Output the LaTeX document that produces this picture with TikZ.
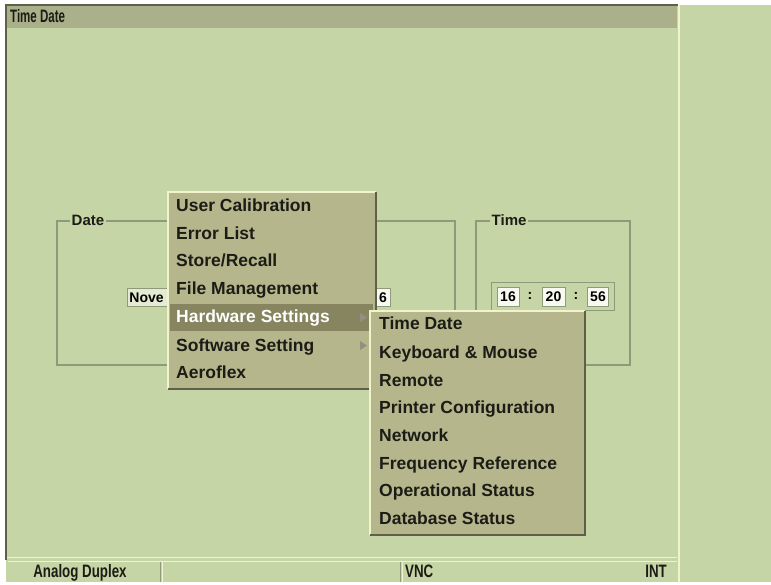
\documentclass[tikz,border=0pt]{standalone}
\usepackage{fontspec}
\setmainfont{Liberation Sans}
\newfontfamily\narrowfont[FakeStretch=0.74]{Liberation Sans}
\newfontfamily\titlefont[FakeStretch=0.64]{Liberation Sans}
\usetikzlibrary{positioning, calc}
\definecolor{panelGreen}{HTML}{C6D5A5}
\definecolor{titleOlive}{HTML}{AAB08A}
\definecolor{menuOlive}{HTML}{B5B68C}
\definecolor{menuHigh}{HTML}{86855F}
\definecolor{edgeLight}{HTML}{F1F3CC}
\definecolor{edgeDark}{HTML}{5F5F4A}
\definecolor{groupLine}{HTML}{8E9B7A}
\definecolor{fieldWhite}{HTML}{F8F9F0}
\definecolor{textDark}{HTML}{1C1C16}
\tikzset{
  menuitem/.style={anchor=base west, inner sep=0pt, text=textDark,
                   font=\bfseries\fontsize{17.5}{19}\selectfont},
  menuhigh/.style={menuitem, text=white},
  menuarrow/.style={fill=gray!70!menuOlive},
  grouplabel/.style={anchor=base west, fill=panelGreen, inner sep=1.5pt, text=textDark,
                     font=\bfseries\fontsize{15}{17}\selectfont},
  groupbox/.style={draw=groupLine, line width=1.2pt},
  fieldbox/.style={fill=fieldWhite, draw=groupLine, line width=0.8pt, inner sep=0pt,
                   minimum height=19pt, font=\bfseries\fontsize{14}{16}\selectfont},
  colon/.style={inner sep=0pt, font=\bfseries\fontsize{14}{16}\selectfont},
  statustext/.style={anchor=base, inner sep=0pt, text=textDark,
                     font=\narrowfont\bfseries\fontsize{18}{20}\selectfont},
}
\begin{document}
\begin{tikzpicture}[x=1pt, y=-1pt]
  \useasboundingbox[fill=white] (0,0) rectangle (771,585);

  % window, title bar and side panel
  \fill[panelGreen] (6,5) rectangle (678,560);
  \fill[panelGreen] (678,5) rectangle (771,582);
  \fill[titleOlive] (7,6) rectangle (677,28);
  \draw[edgeDark, line width=1.5pt] (6,560) -- (6,5) -- (678,5);
  \draw[edgeLight, line width=2pt] (679,5) -- (679,582);
  \draw[edgeLight, line width=1pt] (7,557.5) -- (677,557.5);
  \node[anchor=base west, inner sep=0pt, text=textDark,
        font=\titlefont\bfseries\fontsize{18}{20}\selectfont] (title) at (10,23) {Time Date};

  % status bar
  \fill[panelGreen] (6,560) rectangle (678,582);
  \draw[edgeLight, line width=1pt] (8,561) -- (677,561);
  \draw[groupLine, line width=1pt] (160,562) -- (160,582);
  \draw[edgeLight, line width=1pt] (162,562) -- (162,582);
  \draw[groupLine, line width=1pt] (400,562) -- (400,582);
  \draw[edgeLight, line width=1pt] (402,562) -- (402,582);
  \node[statustext] (mode) at (80,577) {Analog Duplex};
  \node[statustext, anchor=base west] (vnc) at (405,577) {VNC};
  \node[statustext, anchor=base east] (intref) at (667,577) {INT};

  % date group
  \draw[groupbox] (57,221) rectangle (455,365);
  \node[grouplabel] (datelbl) at (70,226) {Date};
  \node[fieldbox, fill=fieldWhite!60!panelGreen, minimum width=45pt, minimum height=18pt,
        anchor=west, text width=41pt] (month) at (127,297.5) {Nove};
  \node[fieldbox, minimum width=15pt, minimum height=18pt, anchor=west] (day) at (375,297.5) {6};

  % time group
  \draw[groupbox] (476,221) rectangle (630,365);
  \node[grouplabel] (timelbl) at (490,226) {Time};
  \draw[groupLine, line width=1pt, fill=panelGreen] (491,283) rectangle (614,311);
  \node[fieldbox, minimum width=22pt] (hh) at (508,296.5) {16};
  \node[fieldbox, minimum width=23pt] (mm) at (553.5,296.5) {20};
  \node[fieldbox, minimum width=21pt] (ss) at (598,296.5) {56};
  \node[colon] (c1) at (530,296) {:};
  \node[colon] (c2) at (576,296) {:};

  % main menu
  \fill[menuOlive] (168,192) rectangle (376,389);
  \draw[edgeLight, line width=1.5pt] (168,389) -- (168,192) -- (376,192);
  \draw[edgeDark, line width=1.8pt] (168,389) -- (376,389) -- (376,192);
  \fill[menuHigh] (170,304) rectangle (373,331);
  \node[menuitem] (m1) at (176,212) {User Calibration};
  \node[menuitem] (m2) at (176,240) {Error List};
  \node[menuitem] (m3) at (176,267) {Store/Recall};
  \node[menuitem] (m4) at (176,295) {File Management};
  \node[menuhigh] (m5) at (176,323) {Hardware Settings};
  \node[menuitem] (m6) at (176,351) {Software Setting};
  \node[menuitem] (m7) at (176,378) {Aeroflex};
  \fill[menuarrow] (360,313) -- (367,317.5) -- (360,322) -- cycle;
  \fill[menuarrow] (360,341) -- (367,345.5) -- (360,350) -- cycle;

  % hardware settings submenu
  \fill[menuOlive] (370,311) rectangle (585,535);
  \draw[edgeLight, line width=1.5pt] (370,535) -- (370,311) -- (585,311);
  \draw[edgeDark, line width=1.8pt] (370,535) -- (585,535) -- (585,311);
  \node[menuitem] (s1) at (379,330) {Time Date};
  \node[menuitem] (s2) at (379,358) {Keyboard \& Mouse};
  \node[menuitem] (s3) at (379,386) {Remote};
  \node[menuitem] (s4) at (379,413) {Printer Configuration};
  \node[menuitem] (s5) at (379,441) {Network};
  \node[menuitem] (s6) at (379,469) {Frequency Reference};
  \node[menuitem] (s7) at (379,496) {Operational Status};
  \node[menuitem] (s8) at (379,524) {Database Status};
\end{tikzpicture}
\end{document}
